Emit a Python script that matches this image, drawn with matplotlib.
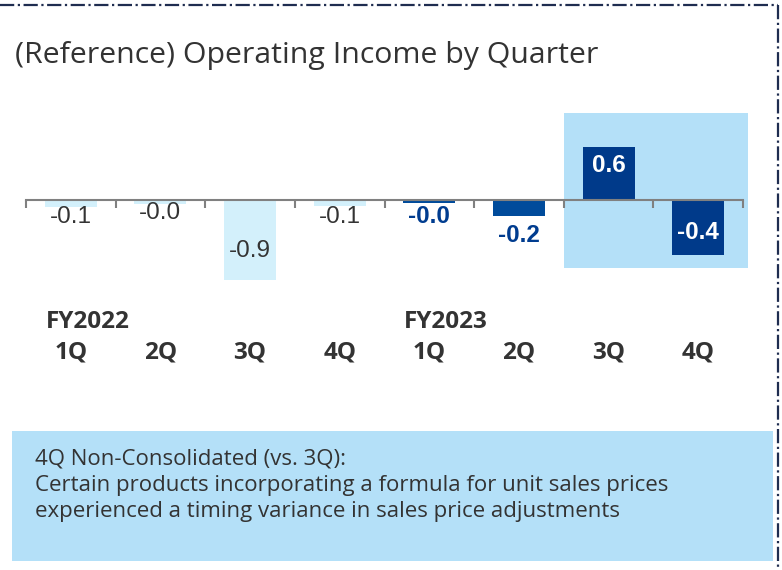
import matplotlib
matplotlib.use('Agg')
import matplotlib.pyplot as plt
from matplotlib import patches, lines, transforms

# data
quarters = ['1Q', '2Q', '3Q', '4Q', '1Q', '2Q', '3Q', '4Q']
years = ['FY2022', '', '', '', 'FY2023', '', '', '']
values = [-0.08, -0.04, -0.9, -0.07, -0.03, -0.18, 0.6, -0.62]
value_labels = ['-0.1', '-0.0', '-0.9', '-0.1', '-0.0', '-0.2', '0.6', '-0.4']
note_title = '4Q Non-Consolidated (vs. 3Q):'
note_lines = ['Certain products incorporating a formula for unit sales prices',
              'experienced a timing variance in sales price adjustments']

W, H = 782, 570
fig = plt.figure(figsize=(W / 100, H / 100), dpi=100)
fig.patch.set_facecolor('white')

def fx(px):
    return px / W

def fy(py):
    return 1 - py / H

# axis area: x 26..743 px, zero line at y=200 px, ~89 px per unit
ax = fig.add_axes([fx(26), fy(300), fx(743 - 26), 200 / H])
ax.set_xlim(-0.5, 7.5)
ax.set_ylim(-100 / 89, 100 / 89)
ax.patch.set_alpha(0)

# highlight behind last two quarters
ax.add_patch(patches.Rectangle((5.5, -0.764), 2.06, 0.978 + 0.764,
                               facecolor='#B4E0F8', edgecolor='none',
                               zorder=0, clip_on=False))

light = '#D3F0FB'
dark = '#004B9B'
darker = '#003A8A'
bar_colors = [light] * 4 + [dark, dark, darker, darker]
x = list(range(len(values)))
ax.bar(x, values, width=0.58, color=bar_colors, zorder=2)

# value label placement (data units) and styles
label_y = [-0.19, -0.15, -0.57, -0.19, -0.19, -0.40, 0.39, -0.37]
for i, (v, lab) in enumerate(zip(values, value_labels)):
    if i < 4:
        col, wt = '#333333', 'normal'
    elif i < 6:
        col, wt = '#003C8F', 'bold'
    else:
        col, wt = 'white', 'bold'
    ax.text(i, label_y[i], lab, ha='center', va='center', fontsize=17.5,
            color=col, fontweight=wt, family='Liberation Sans', zorder=3)

# axis line with boundary ticks
for s in ['left', 'right', 'top']:
    ax.spines[s].set_visible(False)
ax.spines['bottom'].set_position(('data', 0))
ax.spines['bottom'].set_color('#808080')
ax.spines['bottom'].set_linewidth(1.5)
ax.set_yticks([])
ax.set_xticks([i - 0.5 for i in range(9)])
ax.set_xticklabels([])
ax.tick_params(axis='x', direction='out', length=6, width=1.5, color='#808080')

# category labels
trans = transforms.blended_transform_factory(ax.transData, fig.transFigure)
for i, q in enumerate(quarters):
    ax.text(i, fy(353), q, ha='center', va='center', fontsize=17.5,
            fontweight='bold', color='#333333', family='Open Sans',
            transform=trans, clip_on=False)
    if years[i]:
        ax.text(i - 0.28, fy(322), years[i], ha='left', va='center',
                fontsize=17.5, fontweight='bold', color='#333333',
                family='Open Sans', transform=trans, clip_on=False)

# title
fig.text(fx(15), fy(55), '(Reference) Operating Income by Quarter',
         fontsize=21.8, color='#333333', family='Open Sans', va='center')

# note box
fig.add_artist(patches.Rectangle((fx(12), fy(561)), fx(773 - 12), (561 - 431) / H,
                                 transform=fig.transFigure, facecolor='#B4E0F8',
                                 edgecolor='none'))
for k, t in enumerate([note_title] + note_lines):
    fig.text(fx(35), fy(459 + 26.5 * k), t, fontsize=16, color='#333333',
             family='Open Sans', va='center')

# dash-dot frame on top and right
frame = '#1F2D50'
fig.add_artist(lines.Line2D([0, fx(778)], [fy(5), fy(5)], color=frame,
                            lw=1.6, ls='-.', transform=fig.transFigure))
fig.add_artist(lines.Line2D([fx(778), fx(778)], [fy(5), 0], color=frame,
                            lw=1.6, ls='-.', transform=fig.transFigure))

fig.savefig('out.png', dpi=100)
